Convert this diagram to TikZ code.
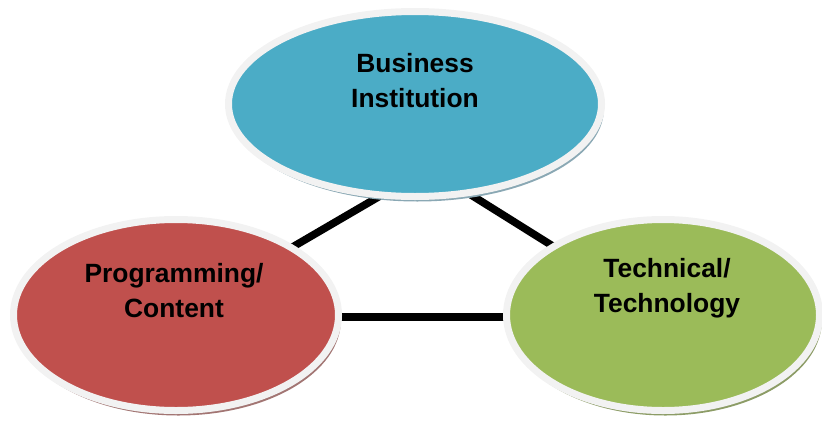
\documentclass[tikz,border=0pt]{standalone}
\usepackage{fontspec}
\setmainfont{Liberation Sans}
\usetikzlibrary{shapes.geometric,shadows}
\pgfdeclarelayer{bg}
\pgfsetlayers{bg,main}
\definecolor{bluefill}{HTML}{4BACC6}
\definecolor{redfill}{HTML}{C0504D}
\definecolor{greenfill}{HTML}{9BBB59}
\definecolor{ring}{HTML}{F2F2F2}
\definecolor{blueshadow}{HTML}{8AA8B4}
\definecolor{redshadow}{HTML}{A27573}
\definecolor{greenshadow}{HTML}{8C9C66}
\begin{document}
\begin{tikzpicture}[x=0.5pt,y=-0.5pt,
  blob/.style={ellipse, draw=ring, line width=3.5pt, inner sep=0pt},
  lbl/.style={font=\bfseries\fontsize{13.2}{17.5}\selectfont, align=center, text=black},
  link/.style={line width=3.8pt, black}]
\useasboundingbox (0,0) rectangle (822,423);
\node[blob, fill=bluefill, minimum width=186.5pt, minimum height=92.5pt,
  drop shadow={shadow xshift=1.2pt,shadow yshift=-2.5pt,fill=blueshadow,opacity=1}] (bus) at (415,104) {};
\node[blob, fill=redfill, minimum width=162.5pt, minimum height=95.5pt,
  drop shadow={shadow xshift=1.2pt,shadow yshift=-2.5pt,fill=redshadow,opacity=1}] (prog) at (176,315) {};
\node[blob, fill=greenfill, minimum width=156.5pt, minimum height=95.5pt,
  drop shadow={shadow xshift=1.2pt,shadow yshift=-2.5pt,fill=greenshadow,opacity=1}] (tech) at (663,315) {};
\node[lbl] (bustext) at (415,81) {Business\\Institution};
\node[lbl] (progtext) at (174,291) {Programming/\\Content};
\node[lbl] (techtext) at (667,288) {Technical/\\Technology};
\coordinate (apex) at (428,168);
\coordinate (progmid) at (176,317);
\coordinate (techmid) at (663,317);
\begin{pgfonlayer}{bg}
\draw[link] (prog.center) -- (apex);
\draw[link] (tech.center) -- (apex);
\draw[link] (progmid) -- (techmid);
\end{pgfonlayer}
\end{tikzpicture}
\end{document}
